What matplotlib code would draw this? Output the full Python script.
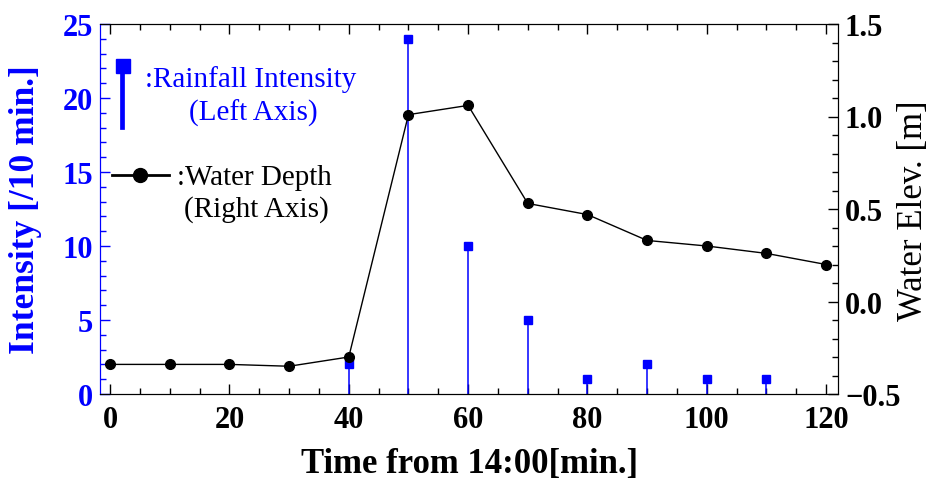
import matplotlib
matplotlib.use("Agg")
import matplotlib.pyplot as plt
from matplotlib.ticker import MultipleLocator
from matplotlib.lines import Line2D

plt.rcParams['font.family'] = ['Liberation Serif', 'DejaVu Serif']

rain_time = [40, 50, 60, 70, 80, 90, 100, 110]
rain_intensity = [2, 24, 10, 5, 1, 2, 1, 1]

depth_time = [0, 10, 20, 30, 40, 50, 60, 70, 80, 90, 100, 110, 120]
water_elev = [-0.34, -0.34, -0.34, -0.35, -0.30, 1.01, 1.06, 0.53, 0.47, 0.33, 0.30, 0.26, 0.20]

fig = plt.figure(figsize=(9.31, 4.85), dpi=100)
ax = fig.add_axes([100/931, 1-395/485, (838-100)/931, (395-25)/485])
ax2 = ax.twinx()

blue = '#0000ff'

ax.vlines(rain_time, 0, rain_intensity, color=blue, lw=1.1, zorder=2)
ax.plot(rain_time, rain_intensity, 's', color=blue, ms=6.3, zorder=3, clip_on=False)

ax2.plot(depth_time, water_elev, '-o', color='black', lw=1, ms=7, zorder=4, clip_on=False)

ax.set_xlim(-1.7, 122)
ax.set_ylim(0, 25)
ax2.set_ylim(-0.5, 1.5)

ax.xaxis.set_major_locator(MultipleLocator(20))
ax.xaxis.set_minor_locator(MultipleLocator(5))
ax.yaxis.set_major_locator(MultipleLocator(5))
ax.yaxis.set_minor_locator(MultipleLocator(1))
ax2.yaxis.set_major_locator(MultipleLocator(0.5))
ax2.yaxis.set_minor_locator(MultipleLocator(0.1))

TS = 22
ax.tick_params(axis='x', which='both', direction='in', top=True, labelsize=TS, pad=8)
ax.tick_params(axis='x', which='major', length=7, width=1)
ax.tick_params(axis='x', which='minor', length=4, width=1)
ax.tick_params(axis='y', which='both', direction='in', colors=blue, labelsize=TS, pad=5)
ax.tick_params(axis='y', which='major', length=7, width=1)
ax.tick_params(axis='y', which='minor', length=4, width=1)
ax2.tick_params(axis='y', which='both', direction='in', labelsize=TS, pad=5)
ax2.tick_params(axis='y', which='major', length=7, width=1)
ax2.tick_params(axis='y', which='minor', length=4, width=1)

for lab in ax.get_xticklabels() + ax.get_yticklabels():
    lab.set_fontweight('bold')

ax2.set_yticks([-0.5, 0.0, 0.5, 1.0, 1.5])
ax2.set_yticklabels(['\u22120.5', '0.0', '0.5', '1.0', '1.5'], fontweight='bold')

ax.spines['left'].set_color(blue)
ax2.spines['left'].set_color(blue)
for sp in ['top', 'bottom', 'right']:
    ax.spines[sp].set_color('black')

ax.set_xlabel('Time from 14:00[min.]', fontsize=25, fontweight='bold')
ax.xaxis.set_label_coords((470-100)/738, -(465-395)/370)
ax.xaxis.label.set_va('center')
ax.set_ylabel('Intensity [/10 min.]', fontsize=25.5, fontweight='bold', color=blue)
ax.yaxis.set_label_coords((26-100)/738, 0.5)
ax.yaxis.label.set_va('center')
ax2.set_ylabel('Water Elev. [m]', fontsize=25, color='black')
ax2.yaxis.set_label_coords((914-100)/738, (395-211)/370)
ax2.yaxis.label.set_va('center')

# custom legend
tr = fig.transFigure
LS = 21
fig.add_artist(Line2D([122/931, 122/931], [1-72/485, 1-128/485], color=blue, lw=3.4, transform=tr))
fig.add_artist(Line2D([123/931], [1-67/485], marker='s', color=blue, ms=10, transform=tr, ls='none'))
fig.text(251/931, 1-80/485, ':Rainfall Intensity', color=blue, fontsize=LS, ha='center', va='center')
fig.text(253/931, 1-113/485, '(Left Axis)', color=blue, fontsize=LS, ha='center', va='center')
fig.add_artist(Line2D([112/931, 169/931], [1-176/485, 1-176/485], color='black', lw=2, transform=tr))
fig.add_artist(Line2D([140/931], [1-176/485], marker='o', color='black', ms=10, transform=tr, ls='none'))
fig.text(254/931, 1-178/485, ':Water Depth', color='black', fontsize=LS, ha='center', va='center')
fig.text(256/931, 1-210/485, '(Right Axis)', color='black', fontsize=LS, ha='center', va='center')

fig.savefig('out.png', dpi=100)
